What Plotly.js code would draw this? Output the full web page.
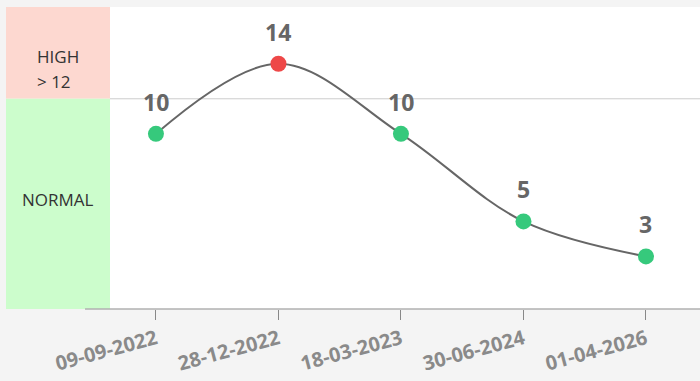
<!DOCTYPE html>
<html>
<head>
<meta charset="utf-8">
<script src="https://cdn.plot.ly/plotly-3.0.1.min.js"></script>
<style>
  html, body { margin: 0; padding: 0; background: #f4f4f4; }
  #chart { width: 700px; height: 381px; }
</style>
</head>
<body>
<div id="chart"></div>
<script>
// Readings per visit date
const dates = ['09-09-2022', '28-12-2022', '18-03-2023', '30-06-2024', '01-04-2026'];
const readings = [10, 14, 10, 5, 3];

// Threshold between normal and high readings
const highThreshold = 12;
const bandLabels = ['HIGH', '> 12', 'NORMAL'];

const GREEN = '#36c97c';
const RED = '#ee4848';
const markerColors = readings.map(v => v > highThreshold ? RED : GREEN);

const W = 700, H = 381;
const M = { l: 6, r: 0, t: 7, b: 72 };
const plotW = W - M.l - M.r;
const bandRight = (110 - M.l) / plotW;

const trace = {
  type: 'scatter',
  mode: 'lines+markers',
  x: dates,
  y: readings,
  line: { shape: 'spline', smoothing: 1, color: '#666666', width: 2 },
  marker: { size: 16, color: markerColors },
  hoverinfo: 'skip',
  cliponaxis: false
};

const valueLabels = dates.map((d, i) => ({
  x: d, y: readings[i], xref: 'x', yref: 'y',
  text: String(readings[i]), showarrow: false,
  yshift: 32,
  font: { family: 'Open Sans', size: 23, color: '#666666', weight: 'bold' }
}));

const bandText = [
  { text: bandLabels[0], x: bandRight / 2, y: 56, anchor: 'center' },
  { text: bandLabels[1], x: (35 - M.l) / plotW, y: 81, anchor: 'left' },
  { text: bandLabels[2], x: bandRight / 2, y: 199, anchor: 'center' }
].map(b => ({
  x: b.x, xref: 'paper', xanchor: b.anchor,
  y: 1 - (b.y - M.t) / (H - M.t - M.b), yref: 'paper', yanchor: 'middle',
  text: b.text, showarrow: false,
  font: { family: 'Open Sans', size: 17, color: '#333333' }
}));

const layout = {
  width: W, height: H,
  margin: M,
  paper_bgcolor: '#f4f4f4',
  plot_bgcolor: '#ffffff',
  showlegend: false,
  xaxis: {
    type: 'category',
    range: [-1.224, 4.441],
    showgrid: false, zeroline: false, showline: false,
    ticks: 'outside', ticklen: 10, tickcolor: '#888888', tickwidth: 1,
    tickangle: -15,
    tickfont: { family: 'Open Sans', size: 20, color: '#8a8a8a', weight: 'bold' },
    fixedrange: true
  },
  yaxis: {
    range: [0, 17.24],
    showgrid: false, zeroline: false, showline: false,
    showticklabels: false, ticks: '',
    fixedrange: true
  },
  shapes: [
    { type: 'rect', layer: 'below', xref: 'paper', x0: 0, x1: bandRight,
      yref: 'y', y0: highThreshold, y1: 17.24, fillcolor: '#fdd8d0', line: { width: 0 } },
    { type: 'rect', layer: 'below', xref: 'paper', x0: 0, x1: bandRight,
      yref: 'y', y0: 0, y1: highThreshold, fillcolor: '#ccfdcc', line: { width: 0 } },
    { type: 'line', layer: 'below', xref: 'paper', x0: bandRight, x1: 1,
      yref: 'y', y0: highThreshold, y1: highThreshold, line: { color: '#cccccc', width: 1 } },
    { type: 'line', layer: 'above', xref: 'paper', x0: (85 - M.l) / plotW, x1: 1,
      yref: 'paper', y0: 0, y1: 0, line: { color: '#b0b0b0', width: 1.5 } }
  ],
  annotations: valueLabels.concat(bandText)
};

Plotly.newPlot('chart', [trace], layout, { displayModeBar: false, staticPlot: true });
</script>
</body>
</html>
